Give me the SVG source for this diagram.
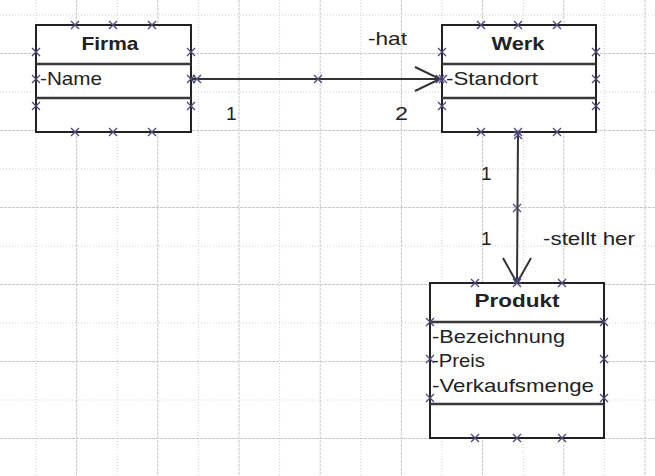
<svg xmlns="http://www.w3.org/2000/svg" xmlns:xlink="http://www.w3.org/1999/xlink" width="655" height="476" viewBox="0 0 655 476">
<style>
.gA{stroke:#c8c8c8;stroke-width:1;stroke-dasharray:3 1;fill:none}
.gB{stroke:#d0d0d0;stroke-width:1;stroke-dasharray:1 2;fill:none}
.box{fill:#ffffff;stroke:#222222;stroke-width:2}
.sep{stroke:#3a3a3a;stroke-width:2.5}
.t{font-family:"Liberation Sans",Arial,sans-serif;font-size:19px;fill:#222222}
.b{font-weight:bold;text-anchor:middle}
.con{stroke:#333333;stroke-width:2;fill:none}
.hd{stroke:#4a4a7a;stroke-width:1.3;fill:none}
</style>
<defs>
<path id="x" class="hd" d="M-4,-4 L4,4 M-4,4 L4,-4"/>
</defs>
<rect width="655" height="476" fill="#ffffff"/>
<g id="grid">
<line class="gB" x1="36" y1="0" x2="36" y2="476"/>
<line class="gA" x1="76.6" y1="0" x2="76.6" y2="476"/>
<line class="gB" x1="117.2" y1="0" x2="117.2" y2="476"/>
<line class="gA" x1="157.8" y1="0" x2="157.8" y2="476"/>
<line class="gB" x1="198.4" y1="0" x2="198.4" y2="476"/>
<line class="gA" x1="239" y1="0" x2="239" y2="476"/>
<line class="gB" x1="279.6" y1="0" x2="279.6" y2="476"/>
<line class="gA" x1="320.2" y1="0" x2="320.2" y2="476"/>
<line class="gB" x1="360.8" y1="0" x2="360.8" y2="476"/>
<line class="gA" x1="401.4" y1="0" x2="401.4" y2="476"/>
<line class="gB" x1="442" y1="0" x2="442" y2="476"/>
<line class="gA" x1="482.6" y1="0" x2="482.6" y2="476"/>
<line class="gB" x1="523.2" y1="0" x2="523.2" y2="476"/>
<line class="gA" x1="563.8" y1="0" x2="563.8" y2="476"/>
<line class="gB" x1="604.4" y1="0" x2="604.4" y2="476"/>
<line class="gA" x1="645" y1="0" x2="645" y2="476"/>
<line class="gB" x1="0" y1="15" x2="655" y2="15"/>
<line class="gA" x1="0" y1="53.5" x2="655" y2="53.5"/>
<line class="gB" x1="0" y1="92" x2="655" y2="92"/>
<line class="gA" x1="0" y1="130.5" x2="655" y2="130.5"/>
<line class="gB" x1="0" y1="169" x2="655" y2="169"/>
<line class="gA" x1="0" y1="207.5" x2="655" y2="207.5"/>
<line class="gB" x1="0" y1="246" x2="655" y2="246"/>
<line class="gA" x1="0" y1="284.5" x2="655" y2="284.5"/>
<line class="gB" x1="0" y1="323" x2="655" y2="323"/>
<line class="gA" x1="0" y1="361.5" x2="655" y2="361.5"/>
<line class="gB" x1="0" y1="400" x2="655" y2="400"/>
<line class="gA" x1="0" y1="438.5" x2="655" y2="438.5"/>
</g>
<g id="connectors">
<line class="con" x1="191" y1="79" x2="440" y2="79"/>
<polyline class="con" points="415,67 440,79 415,91"/>
<line class="con" x1="518" y1="132" x2="517" y2="282"/>
<polyline class="con" points="503,258 517,283 531,258"/>
<use xlink:href="#x" x="318" y="79"/>
<use xlink:href="#x" x="517" y="208"/>
<use xlink:href="#x" x="197" y="79"/>
<text class="t" x="368" y="45" textLength="39" lengthAdjust="spacingAndGlyphs">-hat</text>
<text class="t" x="226" y="120">1</text>
<text class="t" x="395" y="120" textLength="13" lengthAdjust="spacingAndGlyphs">2</text>
<text class="t" x="481" y="180">1</text>
<text class="t" x="481" y="245">1</text>
<text class="t" x="543" y="245" textLength="92" lengthAdjust="spacingAndGlyphs">-stellt her</text>
</g>
<g id="firma">
<rect class="box" x="36" y="25" width="155" height="107"/>
<line class="sep" x1="36" y1="64" x2="191" y2="64"/>
<line class="sep" x1="36" y1="98" x2="191" y2="98"/>
<text class="t b" x="110" y="50" textLength="57" lengthAdjust="spacingAndGlyphs">Firma</text>
<text class="t" x="40" y="85" textLength="62" lengthAdjust="spacingAndGlyphs">-Name</text>
<use xlink:href="#x" x="75" y="25"/><use xlink:href="#x" x="113" y="25"/><use xlink:href="#x" x="152" y="25"/>
<use xlink:href="#x" x="75" y="132"/><use xlink:href="#x" x="113" y="132"/><use xlink:href="#x" x="152" y="132"/>
<use xlink:href="#x" x="36" y="52"/><use xlink:href="#x" x="36" y="79"/><use xlink:href="#x" x="36" y="106"/>
<use xlink:href="#x" x="191" y="52"/><use xlink:href="#x" x="191" y="79"/><use xlink:href="#x" x="191" y="106"/>
</g>
<g id="werk">
<rect class="box" x="442" y="25" width="154" height="107"/>
<line class="sep" x1="442" y1="64" x2="596" y2="64"/>
<line class="sep" x1="442" y1="98" x2="596" y2="98"/>
<text class="t b" x="518" y="50" textLength="53" lengthAdjust="spacingAndGlyphs">Werk</text>
<text class="t" x="446" y="85" textLength="92" lengthAdjust="spacingAndGlyphs">-Standort</text>
<use xlink:href="#x" x="481" y="25"/><use xlink:href="#x" x="518" y="25"/><use xlink:href="#x" x="557" y="25"/>
<use xlink:href="#x" x="481" y="132"/><use xlink:href="#x" x="518" y="132"/><use xlink:href="#x" x="518" y="135"/><use xlink:href="#x" x="557" y="132"/>
<use xlink:href="#x" x="442" y="52"/><use xlink:href="#x" x="440" y="79"/><use xlink:href="#x" x="443" y="79"/><use xlink:href="#x" x="442" y="106"/>
<use xlink:href="#x" x="596" y="52"/><use xlink:href="#x" x="596" y="79"/><use xlink:href="#x" x="596" y="106"/>
</g>
<g id="produkt">
<rect class="box" x="430" y="283" width="174" height="155"/>
<line class="sep" x1="430" y1="322" x2="604" y2="322"/>
<line class="sep" x1="430" y1="404" x2="604" y2="404"/>
<text class="t b" x="517" y="307" textLength="85" lengthAdjust="spacingAndGlyphs">Produkt</text>
<text class="t" x="432" y="343" textLength="133" lengthAdjust="spacingAndGlyphs">-Bezeichnung</text>
<text class="t" x="432" y="367" textLength="53" lengthAdjust="spacingAndGlyphs">-Preis</text>
<text class="t" x="432" y="392" textLength="162" lengthAdjust="spacingAndGlyphs">-Verkaufsmenge</text>
<use xlink:href="#x" x="475" y="283"/><use xlink:href="#x" x="517" y="283"/><use xlink:href="#x" x="517" y="280"/><use xlink:href="#x" x="562" y="283"/>
<use xlink:href="#x" x="475" y="438"/><use xlink:href="#x" x="517" y="438"/><use xlink:href="#x" x="562" y="438"/>
<use xlink:href="#x" x="430" y="322"/><use xlink:href="#x" x="430" y="359"/><use xlink:href="#x" x="430" y="398"/>
<use xlink:href="#x" x="604" y="322"/><use xlink:href="#x" x="604" y="359"/><use xlink:href="#x" x="604" y="398"/>
</g>
</svg>
